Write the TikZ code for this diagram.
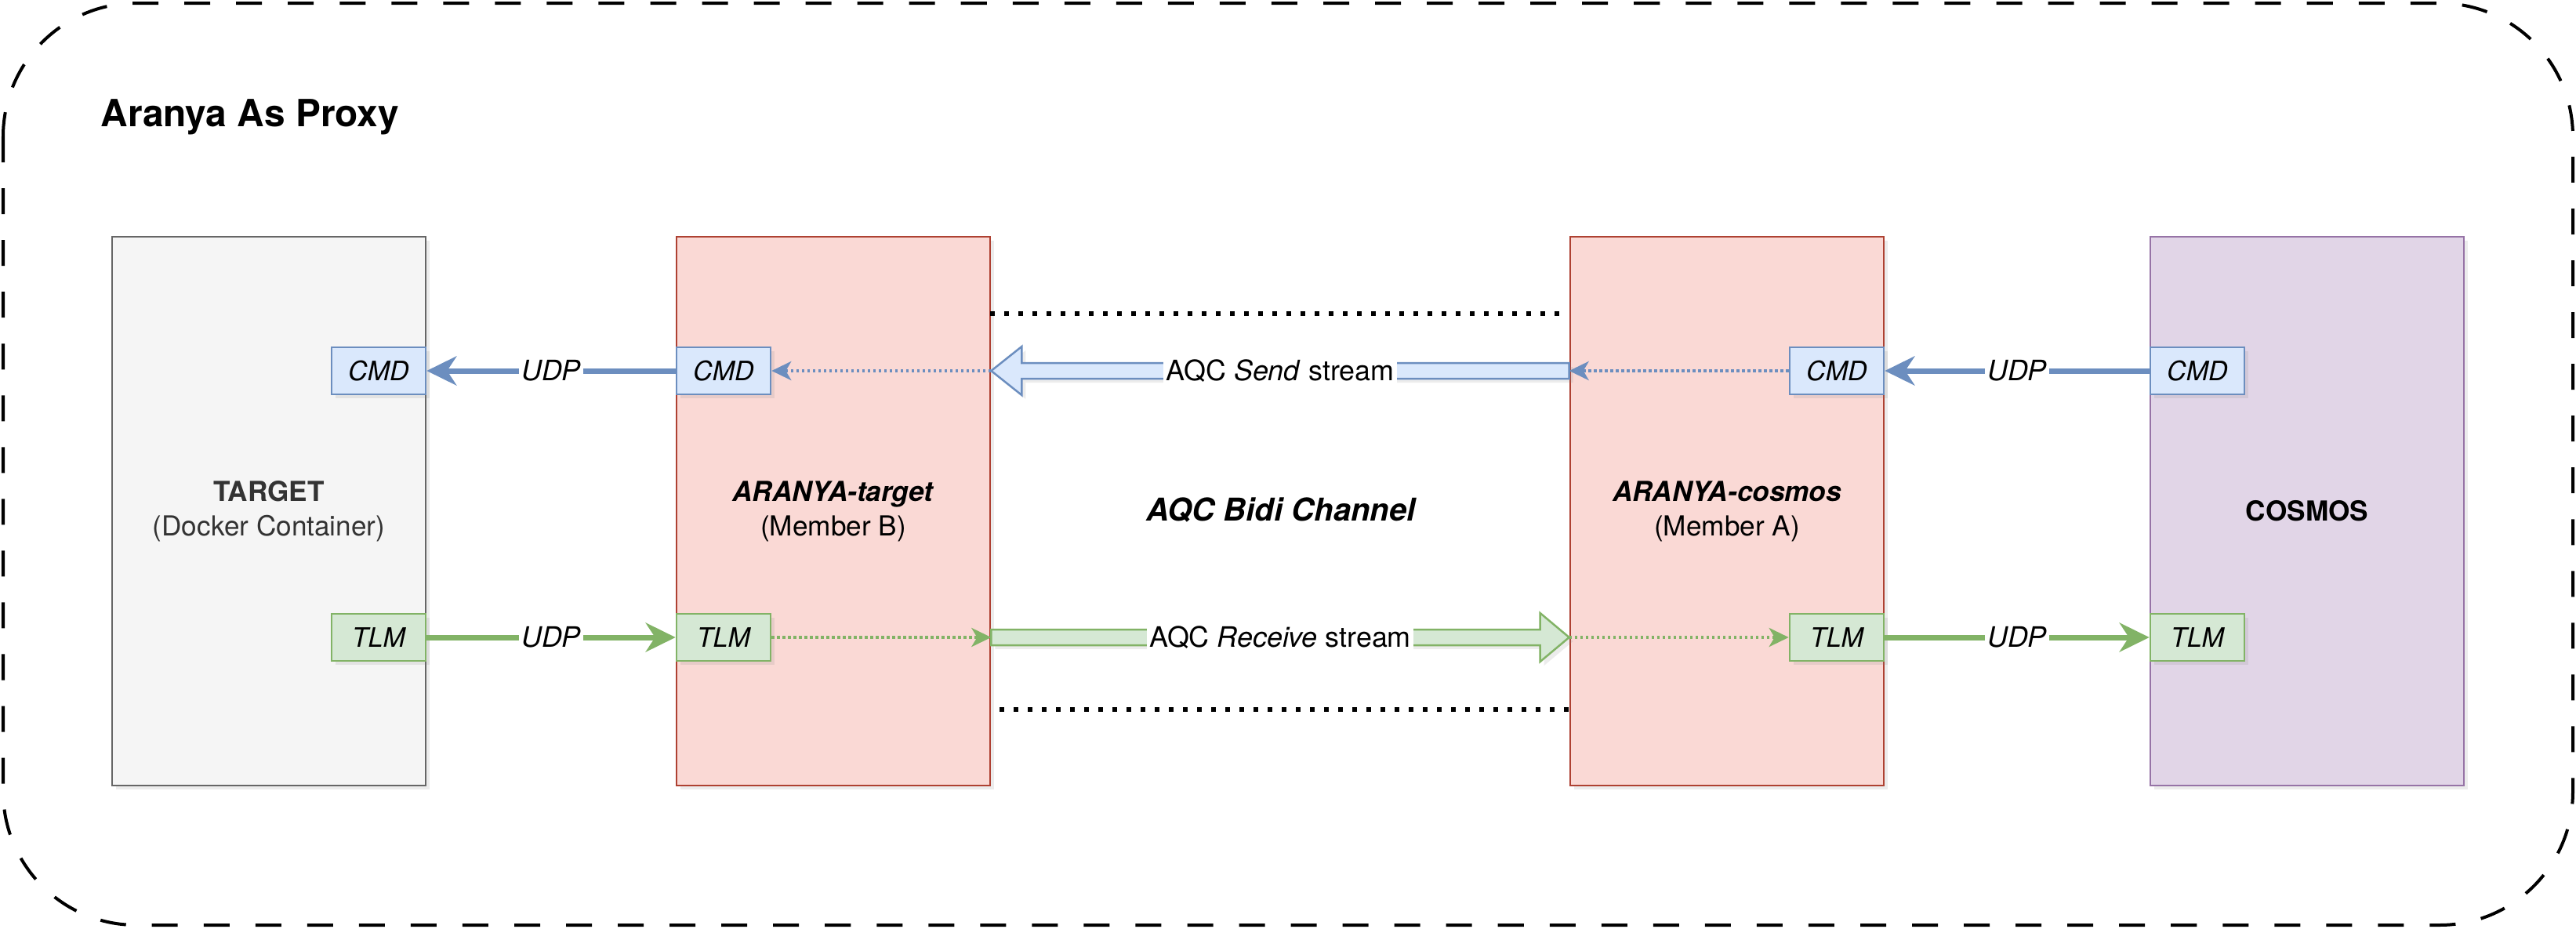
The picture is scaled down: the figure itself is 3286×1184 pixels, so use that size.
\documentclass[tikz,border=0pt]{standalone}
\usepackage{fontspec}
\setmainfont{TeX Gyre Heros}
\usetikzlibrary{arrows.meta, calc, shadows}

\definecolor{tgtfill}{HTML}{F5F5F5}
\definecolor{tgtline}{HTML}{666666}
\definecolor{tgttext}{HTML}{333333}
\definecolor{arfill}{HTML}{FAD9D5}
\definecolor{arline}{HTML}{AE4132}
\definecolor{cosfill}{HTML}{E1D5E7}
\definecolor{cosline}{HTML}{9673A6}
\definecolor{cmdfill}{HTML}{DAE8FC}
\definecolor{cmdline}{HTML}{6C8EBF}
\definecolor{tlmfill}{HTML}{D5E8D4}
\definecolor{tlmline}{HTML}{82B366}

\begin{document}
\begin{tikzpicture}[x=0.01cm, y=-0.01cm,
    every node/.style={font=\fontsize{10pt}{12.5pt}\selectfont},
    softshadow/.style={drop shadow={shadow xshift=0.05cm, shadow yshift=-0.05cm, opacity=0.15}},
    box/.style={draw, line width=0.025cm, minimum width=4cm, minimum height=7cm,
      align=center, inner sep=0pt, softshadow},
    port/.style={draw, line width=0.025cm, minimum width=1.2cm, minimum height=0.6cm,
      inner sep=0pt, font=\fontsize{9.7pt}{12pt}\selectfont\itshape, softshadow},
    cmdport/.style={port, fill=cmdfill, draw=cmdline},
    tlmport/.style={port, fill=tlmfill, draw=tlmline},
    udp/.style={line width=0.07cm, -{Stealth[length=0.38cm, width=0.37cm, inset=0.12cm]}},
    hop/.style={line width=0.04cm, dash pattern=on 0.035cm off 0.035cm,
      -{Stealth[length=0.25cm, width=0.24cm, inset=0.07cm]}},
    udplabel/.style={fill=white, text=black, inner sep=1pt,
      font=\fontsize{10.2pt}{12pt}\selectfont\itshape},
    streamlabel/.style={fill=white, inner sep=1pt, font=\fontsize{10.2pt}{12pt}\selectfont},
    flow/.style={line width=0.025cm, softshadow},
    guard/.style={line width=0.06cm, dash pattern=on 0.06cm off 0.12cm}
  ]
  \useasboundingbox (0,0) rectangle (3286,1184);

  % Outer frame and title
  \draw[line width=0.04cm, dash pattern=on 0.33cm off 0.33cm, rounded corners=1.7cm]
    (4,4) rectangle (3282,1180);
  \node[anchor=base west, inner sep=0pt, font=\fontsize{13.6pt}{16pt}\selectfont\bfseries]
    (title) at (128,161) {Aranya As Proxy};

  % Main blocks
  \node[box, fill=tgtfill, draw=tgtline, text=tgttext] (tgt) at (343,652)
    {\textbf{TARGET}\\(Docker Container)};
  \node[box, fill=arfill, draw=arline] (atgt) at (1063,652)
    {\textbf{\textit{ARANYA-target}}\\(Member B)};
  \node[box, fill=arfill, draw=arline] (acos) at (2203,652)
    {\textbf{\textit{ARANYA-cosmos}}\\(Member A)};
  \node[box, fill=cosfill, draw=cosline] (cos) at (2943,652) {\textbf{COSMOS}};

  % Ports
  \node[cmdport] (tgtcmd) at (483,473) {CMD};
  \node[tlmport] (tgttlm) at (483,813) {TLM};
  \node[cmdport] (atgtcmd) at (923,473) {CMD};
  \node[tlmport] (atgttlm) at (923,813) {TLM};
  \node[cmdport] (acoscmd) at (2343,473) {CMD};
  \node[tlmport] (acostlm) at (2343,813) {TLM};
  \node[cmdport] (coscmd) at (2803,473) {CMD};
  \node[tlmport] (costlm) at (2803,813) {TLM};

  % UDP links
  \draw[udp, cmdline] (atgtcmd) -- node[udplabel] {UDP} (tgtcmd);
  \draw[udp, tlmline] (tgttlm) -- node[udplabel] {UDP} (atgttlm);
  \draw[udp, cmdline] (coscmd) -- node[udplabel] {UDP} (acoscmd);
  \draw[udp, tlmline] (acostlm) -- node[udplabel] {UDP} (costlm);

  % Inner hops
  \draw[hop, cmdline] (atgt.east |- atgtcmd) -- (atgtcmd);
  \draw[hop, cmdline] (acoscmd) -- (acos.west |- acoscmd);
  \draw[hop, tlmline] (atgttlm) -- (atgt.east |- atgttlm);
  \draw[hop, tlmline] (acos.west |- acostlm) -- (acostlm);

  % AQC streams
  \coordinate (sendtip) at (atgt.east |- atgtcmd);
  \coordinate (sendtail) at (acos.west |- acoscmd);
  \draw[flow, fill=cmdfill, draw=cmdline]
    ($(sendtail)+(0,-10)$) -- ($(sendtip)+(39,-10)$) -- ($(sendtip)+(39,-31)$) -- (sendtip)
    -- ($(sendtip)+(39,31)$) -- ($(sendtip)+(39,10)$) -- ($(sendtail)+(0,10)$) -- cycle;
  \node[streamlabel] (sendlabel) at ($(sendtip)!0.5!(sendtail)$) {AQC \textit{Send} stream};

  \coordinate (recvtail) at (atgt.east |- atgttlm);
  \coordinate (recvtip) at (acos.west |- acostlm);
  \draw[flow, fill=tlmfill, draw=tlmline]
    ($(recvtail)+(0,-10)$) -- ($(recvtip)+(-37,-10)$) -- ($(recvtip)+(-37,-31)$) -- (recvtip)
    -- ($(recvtip)+(-37,31)$) -- ($(recvtip)+(-37,10)$) -- ($(recvtail)+(0,10)$) -- cycle;
  \node[streamlabel] (recvlabel) at ($(recvtail)!0.5!(recvtip)$) {AQC \textit{Receive} stream};

  % Channel bounds
  \draw[guard] (1263,400) -- (1989,400);
  \draw[guard] (1275,905) -- (2001,905);
  \node[font=\fontsize{11.4pt}{14pt}\selectfont\bfseries\itshape] (bidi) at (1634,650)
    {AQC Bidi Channel};
\end{tikzpicture}
\end{document}
